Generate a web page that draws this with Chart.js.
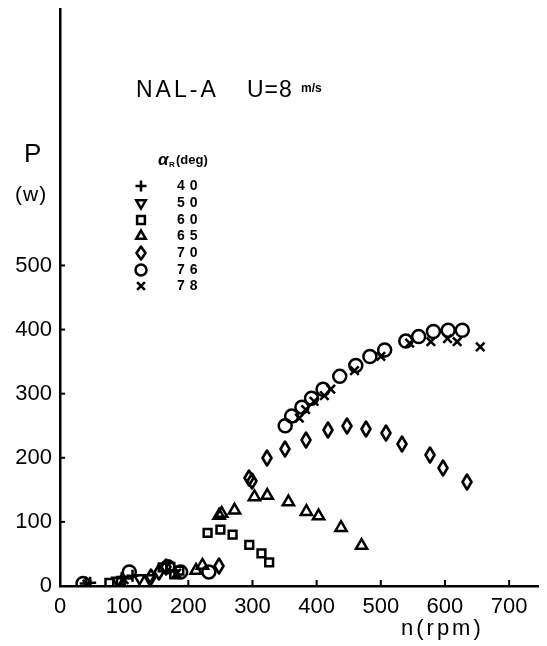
<!DOCTYPE html>
<html lang="en">
<head>
  <meta charset="UTF-8">
  <title>NAL-A P vs n</title>
  <script src="https://cdn.jsdelivr.net/npm/chart.js"></script>
  <style>
    body { margin: 0; background: #fff; }
    .wrap { position: relative; width: 547px; height: 646px; }
  </style>
</head>
<body>
  <div class="wrap">
    <canvas id="powerChart"></canvas>
  </div>

  <script>
    // rotor speed n (rpm) and power P (W) for each blade angle alpha_R
    const n40 = [40, 47, 96, 113];
    const p40 = [4, 5, 12, 16];
    const n50 = [90, 124, 139];
    const p50 = [8, 12, 12];
    const n60 = [77, 95, 160, 172, 178, 186, 230, 250, 269, 295, 314, 326];
    const p60 = [5, 8, 29, 30, 18, 24, 83, 88, 80, 64, 51, 37];
    const n65 = [212, 222, 248, 252, 272, 303, 323, 356, 384, 403, 438, 470];
    const p65 = [24, 32, 110, 113, 118, 139, 141, 131, 116, 109, 91, 63];
    const n70 = [142, 155, 165, 248, 295, 300, 323, 351, 384, 418, 448, 477, 508, 533, 576, 597, 634];
    const p70 = [14, 22, 30, 31, 168, 163, 200, 214, 228, 243, 249, 245, 238, 222, 205, 184, 162];
    const n76 = [36, 108, 168, 188, 232, 351, 361, 377, 392, 410, 436, 461, 483, 506, 539, 559, 582, 605, 627];
    const p76 = [4, 22, 30, 22, 22, 250, 265, 279, 293, 307, 327, 344, 358, 368, 382, 389, 397, 399, 399];
    const n78 = [42, 100, 182, 373, 383, 396, 412, 422, 459, 500, 545, 578, 604, 619, 655];
    const p78 = [3, 10, 20, 262, 275, 288, 297, 307, 336, 358, 379, 381, 386, 381, 373];

    const anglesLabels = ['40', '50', '60', '65', '70', '76', '78'];
    const xTicks = [0, 100, 200, 300, 400, 500, 600, 700];
    const yTicks = [0, 100, 200, 300, 400, 500];

    const pts = (xs, ys) => xs.map((x, i) => ({ x, y: ys[i] }));

    // tall open diamond like the one in the figure
    function makeDiamond(w, h) {
      const c = document.createElement('canvas');
      c.width = w; c.height = h;
      const g = c.getContext('2d');
      g.lineWidth = 2.6;
      g.strokeStyle = '#000';
      g.lineJoin = 'round';
      g.beginPath();
      g.moveTo(w / 2, 1.5); g.lineTo(w - 1.5, h / 2); g.lineTo(w / 2, h - 1.5); g.lineTo(1.5, h / 2);
      g.closePath();
      g.stroke();
      return c;
    }
    const diamond = makeDiamond(12, 18);
    const diamondSmall = makeDiamond(12, 16);

    const styles = [
      { pointStyle: 'cross', rotation: 0, radius: 6 },
      { pointStyle: 'triangle', rotation: 180, radius: 6 },
      { pointStyle: 'rect', rotation: 0, radius: 5.5 },
      { pointStyle: 'triangle', rotation: 0, radius: 6.5 },
      { pointStyle: diamond, rotation: 0, radius: 6 },
      { pointStyle: 'circle', rotation: 0, radius: 6.5 },
      { pointStyle: 'crossRot', rotation: 0, radius: 6 }
    ];
    const series = [pts(n40, p40), pts(n50, p50), pts(n60, p60), pts(n65, p65), pts(n70, p70), pts(n76, p76), pts(n78, p78)];

    const datasets = series.map((data, i) => ({
      label: anglesLabels[i],
      data,
      showLine: false,
      pointStyle: styles[i].pointStyle,
      rotation: styles[i].rotation,
      pointRadius: styles[i].radius,
      pointBorderWidth: 2.5,
      borderColor: '#000',
      backgroundColor: 'rgba(255,255,255,0)'
    }));

    const FONT = '"Liberation Sans", Arial, sans-serif';

    const decorations = {
      id: 'decorations',
      beforeDatasetsDraw(chart) {
        chart.ctx.imageSmoothingEnabled = false;
      },
      afterDraw(chart) {
        const ctx = chart.ctx;
        const xs = chart.scales.x, ys = chart.scales.y;
        ctx.save();
        ctx.imageSmoothingEnabled = false;
        ctx.strokeStyle = '#000';
        ctx.fillStyle = '#000';
        ctx.lineWidth = 2;

        // inward tick marks
        xTicks.forEach(v => {
          if (v === 0) return;
          const px = xs.getPixelForValue(v);
          ctx.beginPath(); ctx.moveTo(px, ys.bottom); ctx.lineTo(px, ys.bottom - 6); ctx.stroke();
        });
        yTicks.forEach(v => {
          if (v === 0) return;
          const py = ys.getPixelForValue(v);
          ctx.beginPath(); ctx.moveTo(xs.left, py); ctx.lineTo(xs.left + 5, py); ctx.stroke();
        });

        // title
        ctx.textBaseline = 'middle';
        ctx.textAlign = 'left';
        ctx.font = '23px ' + FONT;
        ctx.letterSpacing = '3px';
        ctx.fillText('NAL-A', 136, 91);
        ctx.letterSpacing = '1px';
        ctx.fillText('U=8', 247, 91);
        ctx.letterSpacing = '0px';
        ctx.font = 'bold 12px ' + FONT;
        ctx.fillText('m/s', 301, 89);

        // axis titles
        ctx.font = '26px ' + FONT;
        ctx.fillText('P', 24, 155);
        ctx.font = '21px ' + FONT;
        ctx.letterSpacing = '1px';
        ctx.fillText('(w)', 15, 195);
        ctx.font = '22px ' + FONT;
        ctx.letterSpacing = '3px';
        ctx.fillText('n(rpm)', 401, 629);

        // legend
        ctx.letterSpacing = '0px';
        ctx.font = 'italic bold 17px ' + FONT;
        ctx.fillText('\u03b1', 158, 160);
        ctx.font = 'bold 8px ' + FONT;
        ctx.fillText('R', 169, 165);
        ctx.font = 'bold 13px ' + FONT;
        ctx.fillText('(deg)', 176, 160);

        const rowY = [186, 203, 220, 236, 253, 270, 286];
        rowY.forEach((y, i) => {
          ctx.fillStyle = '#fff';
          ctx.lineWidth = 2.5;
          Chart.helpers.drawPoint(ctx, {
            pointStyle: i === 4 ? diamondSmall : styles[i].pointStyle,
            rotation: styles[i].rotation,
            radius: 5.5,
            borderWidth: 2.5
          }, 141, y);
          ctx.fillStyle = '#000';
          ctx.font = 'bold 14px ' + FONT;
          ctx.letterSpacing = '5px';
          ctx.fillText(anglesLabels[i], 177, y);
        });
        ctx.restore();
      }
    };

    new Chart(document.getElementById('powerChart'), {
      type: 'scatter',
      data: { datasets },
      plugins: [decorations],
      options: {
        responsive: true,
        maintainAspectRatio: false,
        animation: false,
        layout: { padding: { top: 0, right: 6, left: 0, bottom: 0 } },
        plugins: { legend: { display: false }, tooltip: { enabled: false } },
        scales: {
          x: {
            type: 'linear',
            min: 0,
            max: 745,
            afterFit: s => { s.height = 60; s.paddingLeft = 0; s.paddingRight = 0; },
            afterBuildTicks: s => { s.ticks = xTicks.map(v => ({ value: v })); },
            grid: { display: true, drawOnChartArea: false, drawTicks: false },
            border: { display: true, color: '#000', width: 2.5 },
            ticks: { padding: 8, color: '#000', font: { family: FONT, size: 22 } }
          },
          y: {
            type: 'linear',
            min: 0,
            max: 900,
            afterFit: s => { s.width = 60; s.paddingTop = 0; s.paddingBottom = 0; },
            afterBuildTicks: s => { s.ticks = yTicks.map(v => ({ value: v })); },
            grid: { display: true, drawOnChartArea: false, drawTicks: false },
            border: { display: true, color: '#000', width: 2.5 },
            ticks: { padding: 8, color: '#000', font: { family: FONT, size: 22 } }
          }
        }
      }
    });
  </script>
</body>
</html>
